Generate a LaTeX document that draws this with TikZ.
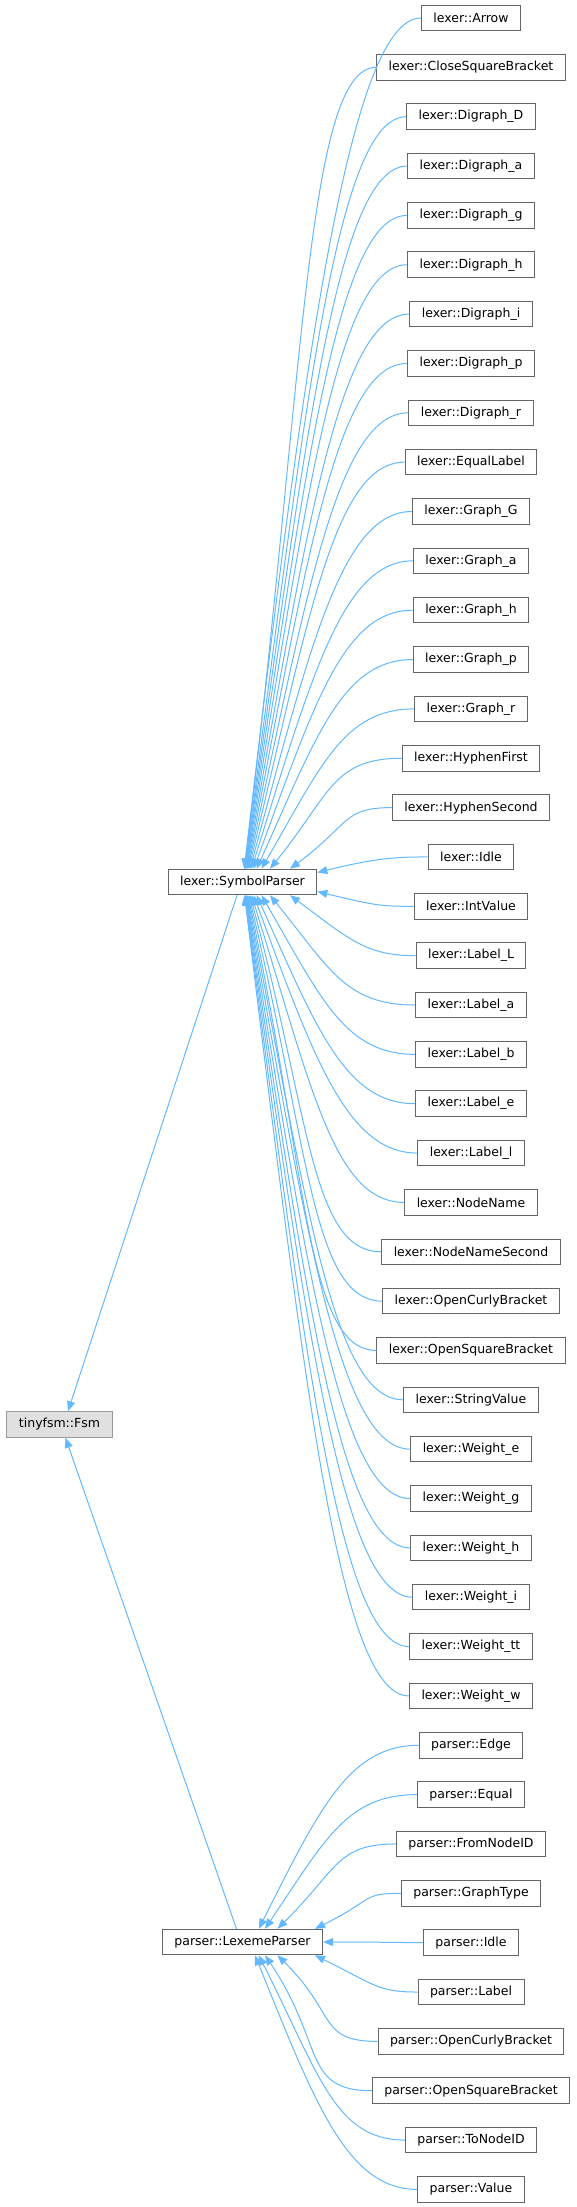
\documentclass[tikz,border=0pt]{standalone}
\usepackage{fontspec}
\setmainfont{DejaVu Sans}
\usetikzlibrary{arrows.meta,calc}
\definecolor{classedge}{RGB}{102,102,102}
\definecolor{rootfill}{RGB}{224,224,224}
\definecolor{rootedge}{RGB}{153,153,153}
\definecolor{inheritblue}{RGB}{99,184,255}

\begin{document}
\begin{tikzpicture}[
  x=1pt,y=1pt,
  font=\fontsize{12.5}{15}\selectfont,
  classbox/.style={draw=classedge,fill=white,line width=1pt,
    minimum height=25.5pt,inner xsep=12pt,inner ysep=0pt},
  rootbox/.style={classbox,draw=rootedge,fill=rootfill},
  inherit/.style={-{Triangle[length=10pt,width=8pt]},line width=1pt,draw=inheritblue}
]
\useasboundingbox (0,0) rectangle (576,-2207);

% Base class and the two intermediate parsers.
\node[rootbox] (fsm) at (59.5,-1424.5) {tinyfsm::Fsm};
\node[classbox] (symbol) at (242.5,-882) {lexer::SymbolParser};
\node[classbox] (lexeme) at (242.5,-1942) {parser::LexemeParser};

% -------------------------------------------------------------------------
% Right column: one row every 49.35 units.
% -------------------------------------------------------------------------
\foreach \name [count=\i from 0] in {Arrow,CloseSquareBracket,Digraph\_D,Digraph\_a,
    Digraph\_g,Digraph\_h,Digraph\_i,Digraph\_p,Digraph\_r,EqualLabel,Graph\_G,Graph\_a,
    Graph\_h,Graph\_p,Graph\_r,HyphenFirst,HyphenSecond,Idle,IntValue,Label\_L,Label\_a,
    Label\_b,Label\_e,Label\_l,NodeName,NodeNameSecond,OpenCurlyBracket,OpenSquareBracket,
    StringValue,Weight\_e,Weight\_g,Weight\_h,Weight\_i,Weight\_tt,Weight\_w}
  {\node[classbox] (lex\i) at (471,{-18-49.35*\i}) {lexer::\name};}

\foreach \name [count=\k from 0] in {Edge,Equal,FromNodeID,GraphType,Idle,Label,
    OpenCurlyBracket,OpenSquareBracket,ToNodeID,Value}
  {\node[classbox] (par\k) at (471,{-18-49.35*(35+\k)}) {parser::\name};}

% Edges into lexer::SymbolParser (it sits between rows 17 and 18).
\foreach \i in {0,...,34} {
  \pgfmathsetmacro\d{17.5-\i}
  \pgfmathsetmacro\ad{abs(\d)}
  \pgfmathsetmacro\dy{49.35*\d}
  \pgfmathsetmacro\lead{min(70,20+0.4*abs(\dy))}
  \ifdim\ad pt<1pt
    \coordinate (tip) at ($(symbol.east)+(0,{19*\d})$);
  \else
    \pgfmathsetmacro\dx{75/\ad-2.5}
    \ifdim\d pt>0pt
      \coordinate (tip) at ($(symbol.north)+(\dx,0)$);
    \else
      \coordinate (tip) at ($(symbol.south)+(\dx,0)$);
    \fi
  \fi
  \draw[inherit] (lex\i.west) .. controls +(-\lead,0) and +(60,{0.6*\dy}) .. (tip);
}

% Edges into parser::LexemeParser (level with parser::Idle).
\foreach \k in {0,...,9} {
  \pgfmathsetmacro\d{4-\k}
  \pgfmathsetmacro\ad{abs(\d)}
  \pgfmathsetmacro\dy{49.35*\d}
  \pgfmathsetmacro\lead{min(70,20+0.4*abs(\dy))}
  \ifdim\ad pt<0.5pt
    \coordinate (tip) at (lexeme.east);
  \else
    \pgfmathsetmacro\dx{75/\ad-2.5}
    \ifdim\d pt>0pt
      \coordinate (tip) at ($(lexeme.north)+(\dx,0)$);
    \else
      \coordinate (tip) at ($(lexeme.south)+(\dx,0)$);
    \fi
  \fi
  \draw[inherit] (par\k.west) .. controls +(-\lead,0) and +(60,{0.6*\dy}) .. (tip);
}

% Both parsers derive from the state machine base.
\draw[inherit] ($(symbol.south)+(-5.5,0)$) -- ($(fsm.north)+(8.5,0)$);
\draw[inherit] ($(lexeme.north)+(-6,0)$) -- ($(fsm.south)+(6,0)$);
\end{tikzpicture}
\end{document}
